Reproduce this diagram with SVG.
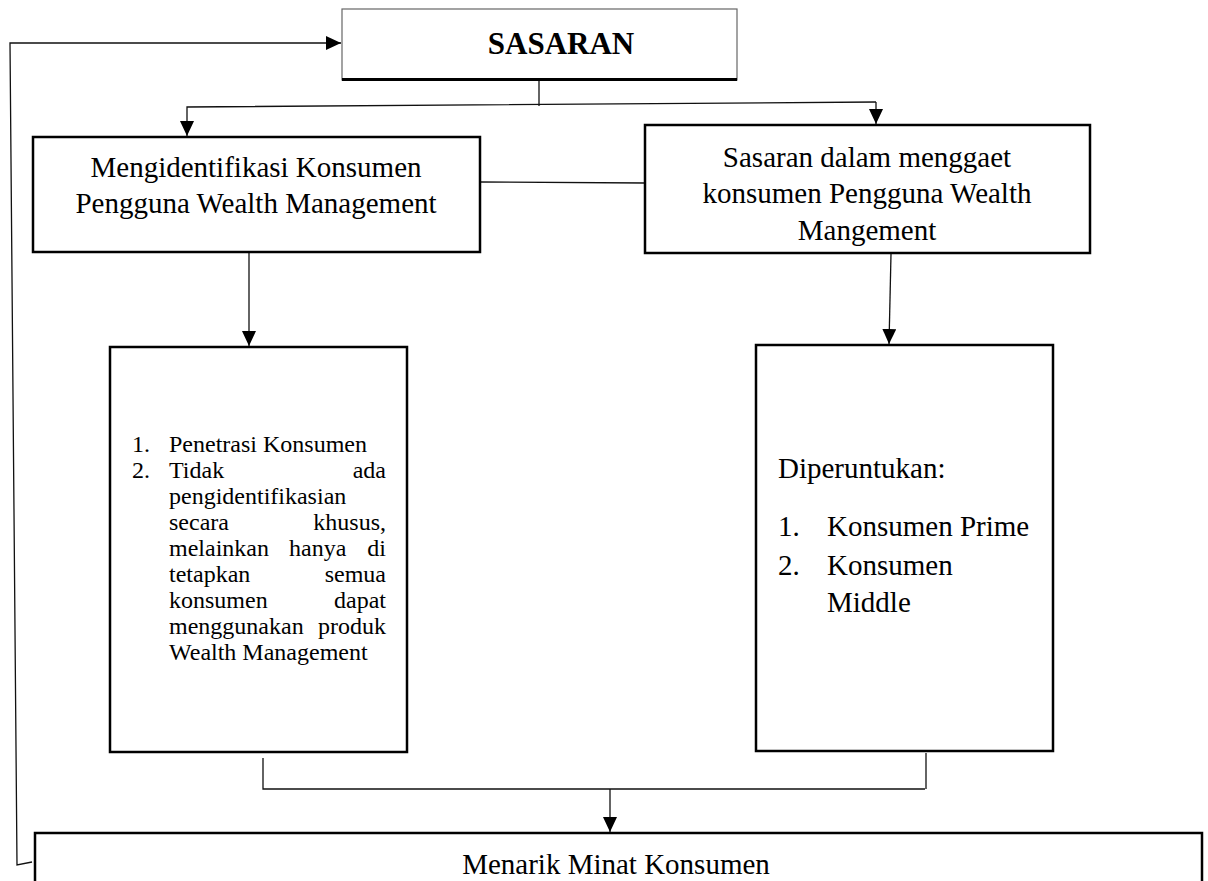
<svg xmlns="http://www.w3.org/2000/svg" width="1208" height="881" viewBox="0 0 1208 881">
<style>
  .box{fill:#fff;stroke:#000;stroke-width:2.5}
  .t{font-family:"Liberation Serif","Times New Roman",serif;fill:#000}
  .big{font-size:29px}
  .sm{font-size:24px}
  .c{fill:none;stroke:#111;stroke-width:1.3}
</style>
<defs>
  <marker id="ah" markerUnits="userSpaceOnUse" markerWidth="15" markerHeight="14" refX="15" refY="7" orient="auto">
    <path d="M0,0 L15,7 L0,14 z" fill="#000"/>
  </marker>
</defs>
<rect width="1208" height="881" fill="#fff"/>

<g id="connectors">
  <polyline class="c" points="32,862 17,865 10,43 341,43" marker-end="url(#ah)"/>
  <line class="c" x1="539" y1="80" x2="539" y2="106"/>
  <polyline class="c" points="876,102 187,107 187,136" marker-end="url(#ah)"/>
  <line class="c" x1="876" y1="102" x2="876" y2="124" marker-end="url(#ah)"/>
  <line class="c" x1="480" y1="182" x2="645" y2="183"/>
  <line class="c" x1="249" y1="253" x2="249" y2="346" marker-end="url(#ah)"/>
  <line class="c" x1="891" y1="254" x2="889" y2="344" marker-end="url(#ah)"/>
  <polyline class="c" points="263,758 263,789 925,789"/>
  <line class="c" x1="926" y1="753" x2="926" y2="789"/>
  <line class="c" x1="610" y1="789" x2="610" y2="832" marker-end="url(#ah)"/>
</g>

<g id="sasaran">
  <rect x="342" y="9" width="395" height="71" fill="#fff" stroke="#666" stroke-width="1.2"/>
  <line x1="342" y1="79.5" x2="737" y2="79.5" stroke="#000" stroke-width="3"/>
  <text class="t" x="561" y="54" font-size="31" font-weight="bold" text-anchor="middle">SASARAN</text>
</g>

<g id="identifikasi">
  <rect class="box" x="33" y="137" width="447" height="115"/>
  <text class="t big" x="256" y="177" text-anchor="middle">Mengidentifikasi Konsumen</text>
  <text class="t big" x="256" y="213" text-anchor="middle">Pengguna Wealth Management</text>
</g>

<g id="sasaran-menggaet">
  <rect class="box" x="645" y="125" width="445" height="128"/>
  <text class="t big" x="867" y="167" text-anchor="middle">Sasaran dalam menggaet</text>
  <text class="t big" x="867" y="203" text-anchor="middle">konsumen Pengguna Wealth</text>
  <text class="t big" x="867" y="240" text-anchor="middle">Mangement</text>
</g>

<g id="list-kiri">
  <rect class="box" x="110" y="347" width="297" height="405"/>
  <text class="t sm" x="132" y="452">1.</text>
  <text class="t sm" x="169" y="452">Penetrasi Konsumen</text>
  <text class="t sm" x="132" y="478">2.</text>
  <text class="t sm" x="169" y="478">Tidak</text>
  <text class="t sm" x="386" y="478" text-anchor="end">ada</text>
  <text class="t sm" x="169" y="504">pengidentifikasian</text>
  <text class="t sm" x="169" y="530">secara</text>
  <text class="t sm" x="386" y="530" text-anchor="end">khusus,</text>
  <text class="t sm" x="169" y="556">melainkan</text>
  <text class="t sm" x="289" y="556">hanya</text>
  <text class="t sm" x="386" y="556" text-anchor="end">di</text>
  <text class="t sm" x="169" y="582">tetapkan</text>
  <text class="t sm" x="386" y="582" text-anchor="end">semua</text>
  <text class="t sm" x="169" y="608">konsumen</text>
  <text class="t sm" x="386" y="608" text-anchor="end">dapat</text>
  <text class="t sm" x="169" y="634">menggunakan</text>
  <text class="t sm" x="386" y="634" text-anchor="end">produk</text>
  <text class="t sm" x="169" y="660">Wealth Management</text>
</g>

<g id="list-kanan">
  <rect class="box" x="756" y="345" width="297" height="406"/>
  <text class="t big" x="778" y="478">Diperuntukan:</text>
  <text class="t big" x="778" y="536">1.</text>
  <text class="t big" x="827" y="536">Konsumen Prime</text>
  <text class="t big" x="778" y="575">2.</text>
  <text class="t big" x="827" y="575">Konsumen</text>
  <text class="t big" x="827" y="612">Middle</text>
</g>

<g id="menarik">
  <rect class="box" x="35" y="833" width="1167" height="70"/>
  <text class="t big" x="616" y="874" text-anchor="middle">Menarik Minat Konsumen</text>
</g>
</svg>
